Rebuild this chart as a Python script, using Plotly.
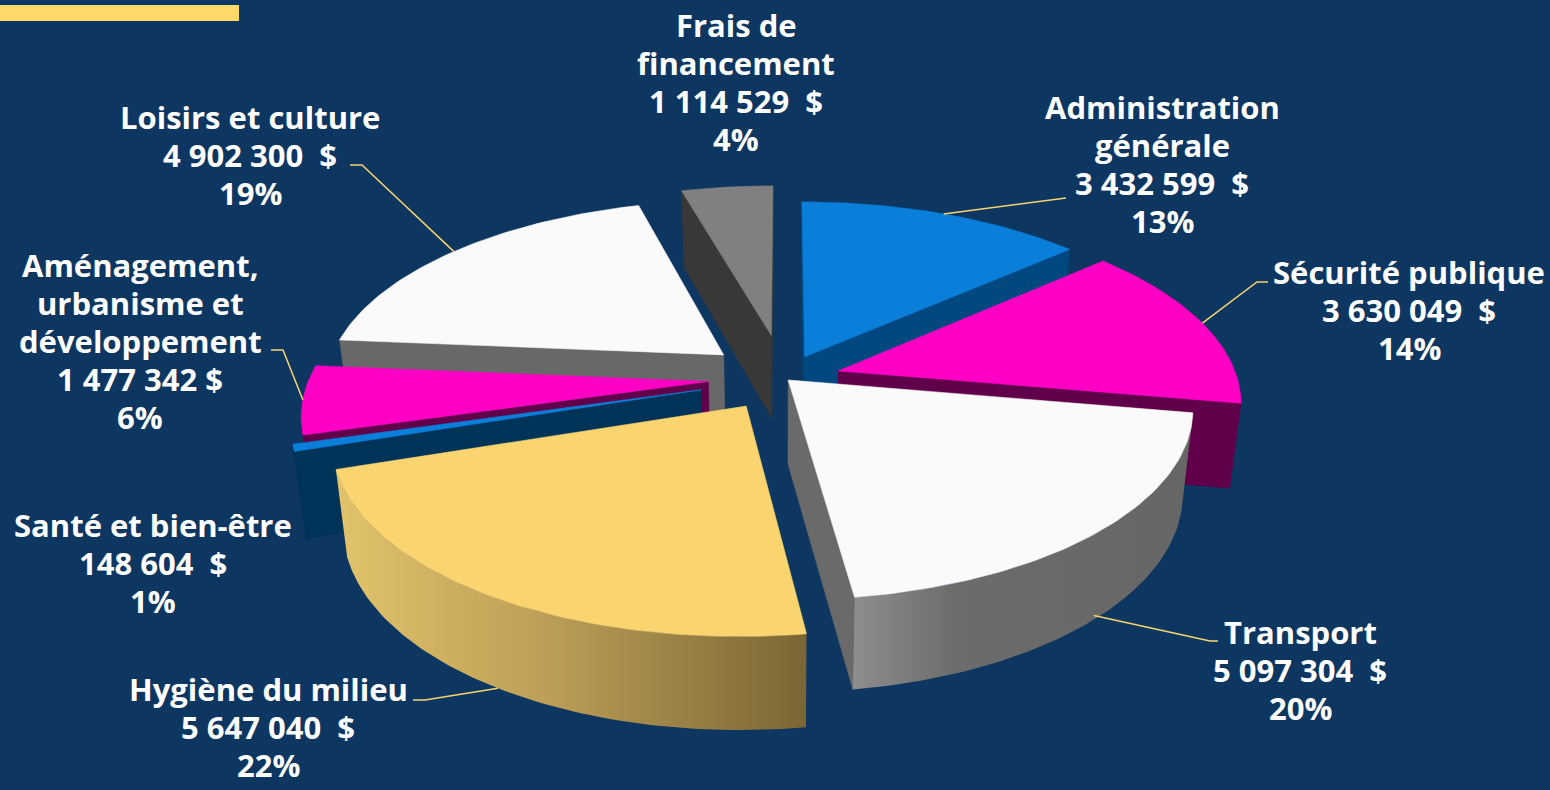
import numpy as np
import plotly.graph_objects as go

# ---------------- data ----------------
categories = ["Administration générale", "Sécurité publique", "Transport",
              "Hygiène du milieu", "Santé et bien-être",
              "Aménagement, urbanisme et développement", "Loisirs et culture",
              "Frais de financement"]
values = [3432599, 3630049, 5097304, 5647040, 148604, 1477342, 4902300, 1114529]
label_lines = [["Administration", "générale"], ["Sécurité publique"], ["Transport"],
               ["Hygiène du milieu"], ["Santé et bien-être"],
               ["Aménagement,", "urbanisme et", "développement"], ["Loisirs et culture"],
               ["Frais de", "financement"]]
amount_labels = ["3 432 599\u00a0 $", "3 630 049\u00a0 $", "5 097 304\u00a0 $",
                 "5 647 040\u00a0 $", "148 604\u00a0 $", "1 477 342 $",
                 "4 902 300\u00a0 $", "1 114 529\u00a0 $"]

# ---------------- style ----------------
top_colors = ["#0A7FDA", "#FF00C5", "#FAFAFA", "#F9D46F", "#0A7FDA", "#FF00C5", "#FAFAFA", "#808080"]
side_colors = ["#00487F", "#61004A", "#6A6A6A", "#C9AA5C", "#003358", "#61004A", "#686868", "#383838"]
wall_grad = {2: [[0, "#8E8E8E"], [0.3, "#6C6C6C"], [1, "#666666"]],
             3: [[0, "#E2C36C"], [0.45, "#BC9E56"], [1, "#7A6535"]]}
explode = [0.128, 0.142, 0.015, 0.175, 0.215, 0.19, 0.20, 0.24]
# label placement (pixel space) and leader line elbows
label_pos = [(1162, 164), (1409, 310), (1300, 670), (268, 727), (153, 563), (140, 341), (250, 155), (736, 82)]
LINE_H = 37.8
leader = {0: [(1058, 199), (1066, 198)], 1: [(1257, 282), (1268, 282)], 2: [(1210, 641), (1218, 641)],
          3: [(425, 700), (413, 700)], 5: [(283, 350), (271, 350)], 6: [(362, 165), (350, 165)]}
leader_depth = {0: 0.0, 1: 0.0, 2: 0.95, 3: 1.0, 5: 0.0, 6: 0.0}

BG = "#0D3661"
CX, CY = 784.0, 378.0
RX, RY = 399.0, 185.0
P = 0.155
T = 84.0
KB = 0.975


def proj(X, Y, z=0.0):
    X = np.asarray(X, float)
    Y = np.asarray(Y, float)
    g = 1.0 / (1.0 + P * Y)
    x = CX + RX * X * g
    y = CY - RY * Y * g
    x = CX + (x - CX) * (1 - (1 - KB) * z)
    y = y + T * g ** 0.55 * z
    return x, y


def area(xs, ys):
    xs = np.asarray(xs); ys = np.asarray(ys)
    return 0.5 * np.sum(xs * np.roll(ys, -1) - np.roll(xs, -1) * ys)


fig = go.Figure()


def poly(xs, ys, color, grad=None):
    xs = list(xs) + [xs[0]]
    ys = list(ys) + [ys[0]]
    kw = dict(x=xs, y=ys, mode="lines", fill="toself", hoverinfo="skip", showlegend=False)
    if grad is not None:
        kw["fillgradient"] = dict(type="horizontal", colorscale=grad)
        kw["line"] = dict(width=0, color=color)
    else:
        kw["fillcolor"] = color
        kw["line"] = dict(width=0.6, color=color)
    fig.add_trace(go.Scatter(**kw))


total = float(sum(values))
cum = np.concatenate([[0.0], np.cumsum(values)]) / total
n = len(values)
mids = [(cum[i] + cum[i + 1]) * np.pi for i in range(n)]
order = sorted(range(n), key=lambda i: -np.cos(mids[i]))

for i in order:
    t1, t2 = cum[i] * 2 * np.pi, cum[i + 1] * 2 * np.pi
    m = mids[i]
    ex, ey = explode[i] * np.sin(m), explode[i] * np.cos(m)
    k = max(3, int(np.degrees(t2 - t1)) + 2)
    ts = np.linspace(t1, t2, k)
    gx, gy = ex + np.sin(ts), ey + np.cos(ts)
    tx, ty = proj(gx, gy, 0)
    bx, by = proj(gx, gy, 1)
    atx, aty = proj(ex, ey, 0)
    abx, aby = proj(ex, ey, 1)
    atx, aty, abx, aby = float(atx), float(aty), float(abx), float(aby)

    # radial faces
    f1 = ([atx, tx[0], bx[0], abx], [aty, ty[0], by[0], aby])
    f2 = ([tx[-1], atx, abx, bx[-1]], [ty[-1], aty, aby, by[-1]])
    for fx, fy in (f1, f2):
        if area(fx, fy) < -1:
            poly(fx, fy, side_colors[i])
    # outer wall
    vis = [area([tx[j], tx[j + 1], bx[j + 1], bx[j]], [ty[j], ty[j + 1], by[j + 1], by[j]]) < 0
           for j in range(k - 1)]
    j = 0
    while j < k - 1:
        if vis[j]:
            s = j
            while j < k - 1 and vis[j]:
                j += 1
            e = j
            wx = list(tx[s:e + 1]) + list(bx[s:e + 1][::-1])
            wy = list(ty[s:e + 1]) + list(by[s:e + 1][::-1])
            poly(wx, wy, side_colors[i], wall_grad.get(i))
        else:
            j += 1
    # top face
    poly([atx] + list(tx), [aty] + list(ty), top_colors[i])

# leader lines
for i, pts in leader.items():
    m = mids[i]
    ex, ey = explode[i] * np.sin(m), explode[i] * np.cos(m)
    ax_, ay_ = proj(ex + np.sin(m), ey + np.cos(m), leader_depth[i])
    xs = [float(ax_)] + [p[0] for p in pts]
    ys = [float(ay_)] + [p[1] for p in pts]
    fig.add_trace(go.Scatter(x=xs, y=ys, mode="lines", line=dict(color="#F9D46E", width=1.5),
                             hoverinfo="skip", showlegend=False))

# labels (one annotation per line for exact line spacing)
for i in range(n):
    pct = round(values[i] / total * 100)
    lines = label_lines[i] + [amount_labels[i], f"{pct}%"]
    L = len(lines)
    for j, line in enumerate(lines):
        fig.add_annotation(x=label_pos[i][0], y=label_pos[i][1] + (j - (L - 1) / 2) * LINE_H,
                           xref="x", yref="y", text=line, showarrow=False,
                           xanchor="center", yanchor="middle", align="center",
                           font=dict(family="Open Sans", size=31, color="#FFFFFF", weight=700))

fig.add_shape(type="rect", xref="x", yref="y", x0=0, x1=239, y0=5, y1=21,
              fillcolor="#FDD96A", line=dict(width=0), layer="below")

fig.update_layout(
    width=1550, height=790, autosize=False,
    margin=dict(l=0, r=0, t=0, b=0),
    paper_bgcolor=BG, plot_bgcolor=BG,
    xaxis=dict(range=[0, 1550], visible=False, fixedrange=True),
    yaxis=dict(range=[790, 0], visible=False, fixedrange=True),
    showlegend=False,
)
fig.write_html("out.html", config={"displayModeBar": False},
               post_script="document.body.style.margin='0';document.body.style.overflow='hidden';")
